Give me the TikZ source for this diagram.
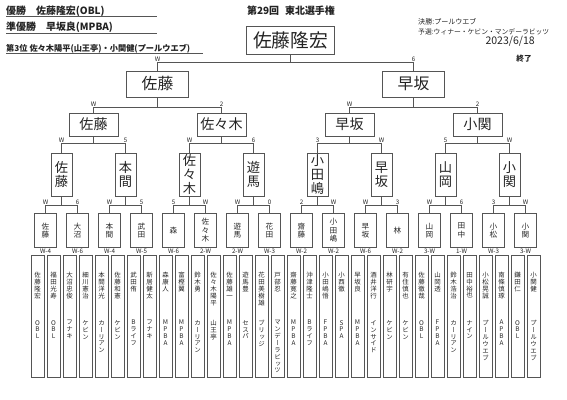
\documentclass[tikz,border=0pt]{standalone}
\usepackage{fontspec}
\setmainfont{Noto Sans CJK JP}
\newfontfamily\tatefont{Noto Sans CJK JP}[RawFeature=+vert]
\usetikzlibrary{positioning}
\definecolor{ink}{RGB}{35,35,35}
\definecolor{frame}{RGB}{85,85,85}

% one character per line, for the upright boxes
\ExplSyntaxOn
\NewDocumentCommand\tate{m}
 {
  \tl_set:No \l_tmpa_tl {#1}
  \bool_set_false:N \l_tmpa_bool
  \tl_map_inline:Nn \l_tmpa_tl
   {
    \bool_if:NT \l_tmpa_bool { \\ }
    \bool_set_true:N \l_tmpa_bool
    ##1
   }
 }
\ExplSyntaxOff

\begin{document}
\begin{tikzpicture}[x=0.03cm, y=-0.03cm, ink,
  wire/.style={draw=frame, line width=0.5pt},
  head/.style={anchor=west, inner sep=0pt},
  champbox/.style={draw=frame, line width=0.6pt, minimum width=2.64cm, minimum height=0.84cm, inner sep=0pt, font=\fontsize{16}{16}\selectfont},
  semibox/.style={draw=frame, line width=0.6pt, minimum width=1.86cm, minimum height=0.78cm, inner sep=0pt, font=\fontsize{13.5}{14}\selectfont},
  quarterbox/.style={draw=frame, line width=0.6pt, minimum width=1.47cm, minimum height=0.69cm, inner sep=0pt, font=\fontsize{12}{12}\selectfont},
  tatebox/.style={draw=frame, line width=0.6pt, minimum width=0.63cm, minimum height=1.29cm, inner sep=0pt, align=center, font=\fontsize{11.3}{11.6}\selectfont},
  smallbox/.style={draw=frame, line width=0.6pt, minimum width=0.66cm, minimum height=1.02cm, inner sep=0pt, align=center, font=\fontsize{6.5}{7.2}\selectfont},
  entrybox/.style={draw=frame, line width=0.6pt, minimum width=0.39cm, minimum height=3.66cm, inner sep=0pt},
  entrytext/.style={anchor=north, align=center, inner sep=0pt, font=\tatefont\fontsize{5.5}{5.9}\selectfont},
  score/.style={anchor=south, inner sep=0.6pt, font=\fontsize{5.3}{5.3}\selectfont},
]
\useasboundingbox (0,0) rectangle (567,400);

% header
\node[head, font=\bfseries\fontsize{8.5}{9}\selectfont] (winner) at (6,11.5) {優勝　佐藤隆宏(OBL)};
\node[head, font=\bfseries\fontsize{8.5}{9}\selectfont] (runner) at (6,27.5) {準優勝　早坂良(MPBA)};
\node[head, font=\bfseries\fontsize{7}{7}\selectfont] (third) at (6,48.5) {第3位 佐々木陽平(山王亭)・小関健(プールウエブ)};
\draw[wire] (winner.west |- 0,16) -- ++(151,0);
\draw[wire] (runner.west |- 0,33) -- ++(151,0);
\draw[wire] (third.west |- 0,53) -- ++(197,0);
\node[font=\bfseries\fontsize{8.5}{9}\selectfont] (title) at (291,11) {第29回\hspace{0.6em}東北選手権};
\node[head, font=\fontsize{6}{6}\selectfont] (final) at (418,22) {決勝:プールウエブ};
\node[head, font=\fontsize{5.8}{6}\selectfont] (prelim) at (418,31.5) {予選:ウィナー・ケビン・マンデーラビッツ};
\node[anchor=east, inner sep=0pt, font=\fontsize{9}{9}\selectfont] (date) at (535,41.5) {2023/6/18};
\node[font=\bfseries\fontsize{6.5}{6.5}\selectfont] (done) at (524,59) {終了};

% bracket boxes
\node[champbox] (champ) at (290.5,40) {佐藤隆宏};
\node[semibox] (s1) at (157.5,84) {佐藤};
\node[semibox] (s2) at (413.5,84) {早坂};
\foreach \nm [count=\i] in {佐藤,佐々木,早坂,小関}
  \node[quarterbox] (q\i) at ({93.5+128*(\i-1)},124.5) {\nm};
\foreach \nm [count=\i] in {佐藤,本間,佐々木,遊馬,小田嶋,早坂,山岡,小関}
  \node[tatebox] (r\i) at ({61.5+64*(\i-1)},174.5) {\tate{\nm}};
\foreach \nm/\res [count=\i] in {佐藤/W-4,大沼/W-6,本間/W-4,武田/W-5,森/W-6,佐々木/2-W,遊馬/2-W,花田/W-3,
    齋藤/W-2,小田嶋/W-2,早坂/W-6,林/W-2,山岡/3-W,田中/1-W,小松/W-3,小関/3-W} {
  \node[smallbox] (p\i) at ({45.5+32*(\i-1)},230.5) {\tate{\nm}};
  \node[score] (pr\i) at ({45.5+32*(\i-1)},254.5) {\res};
}

% entries
\foreach \nm/\tm [count=\i] in {佐藤隆宏/OBL,福田光寿/OBL,大沼忠俊/フナキ,細川憲治/ケビン,
    本間洋光/カーリアン,佐藤和憲/ケビン,武田侑/Bライフ,新居健太/フナキ,
    森康人/MPBA,富樫翼/MPBA,鈴木勇/カーリアン,佐々木陽平/山王亭,
    佐藤雄一/MPBA,遊馬豊/セスパ,花田美樹雄/ブリッジ,戸部忍/マンデーラビッツ,
    齋藤寛之/MPBA,沖津隆士/Bライフ,小田嶋悟/FPBA,小西徹/SPA,
    早坂良/MPBA,酒井洋行/インサイド,林研宇/ケビン,有住慎也/ケビン,
    佐藤徹哉/OBL,山岡透/FPBA,鈴木浩治/カーリアン,田中裕也/ナイン,
    小松晃誠/プールウエブ,南條慎琢/APBA,鎌田仁/OBL,小関健/プールウエブ} {
  \node[entrybox] (e\i) at ({37.5+16*(\i-1)},316) {};
  \node[entrytext] (en\i) at ({37.5+16*(\i-1)},272) {\tate{\nm}};
  \node[entrytext] (et\i) at ({37.5+16*(\i-1)},320) {\tate{\tm}};
}

% connectors
\draw[wire] (champ.south) -- ++(0,8) coordinate (j0);
\draw[wire] (s1.north) |- (j0) -| (s2.north);
\node[score] (w0a) at (s1.north |- j0) {W};
\node[score] (w0b) at (s2.north |- j0) {6};
\foreach \i/\a/\b/\sa/\sb in {1/1/2/W/2, 2/3/4/W/2} {
  \draw[wire] (s\i.south) -- ++(0,10) coordinate (ja\i);
  \draw[wire] (q\a.north) |- (ja\i) -| (q\b.north);
  \node[score] (wa\a) at (q\a.north |- ja\i) {\sa};
  \node[score] (wa\b) at (q\b.north |- ja\i) {\sb};
}
\foreach \i/\a/\b/\sa/\sb in {1/1/2/W/5, 2/3/4/W/6, 3/5/6/3/W, 4/7/8/5/W} {
  \draw[wire] (q\i.south) -- ++(0,7) coordinate (jb\i);
  \draw[wire] (r\a.north) |- (jb\i) -| (r\b.north);
  \node[score] (wb\a) at (r\a.north |- jb\i) {\sa};
  \node[score] (wb\b) at (r\b.north |- jb\i) {\sb};
}
\foreach \i/\a/\b/\sa/\sb in {1/1/2/W/6, 2/3/4/W/5, 3/5/6/5/W, 4/7/8/W/0,
    5/9/10/2/W, 6/11/12/W/3, 7/13/14/W/6, 8/15/16/3/W} {
  \draw[wire] (r\i.south) -- ++(0,9) coordinate (jc\i);
  \draw[wire] (p\a.north) |- (jc\i) -| (p\b.north);
  \node[score] (wc\a) at (p\a.north |- jc\i) {\sa};
  \node[score] (wc\b) at (p\b.north |- jc\i) {\sb};
}
\end{tikzpicture}
\end{document}
